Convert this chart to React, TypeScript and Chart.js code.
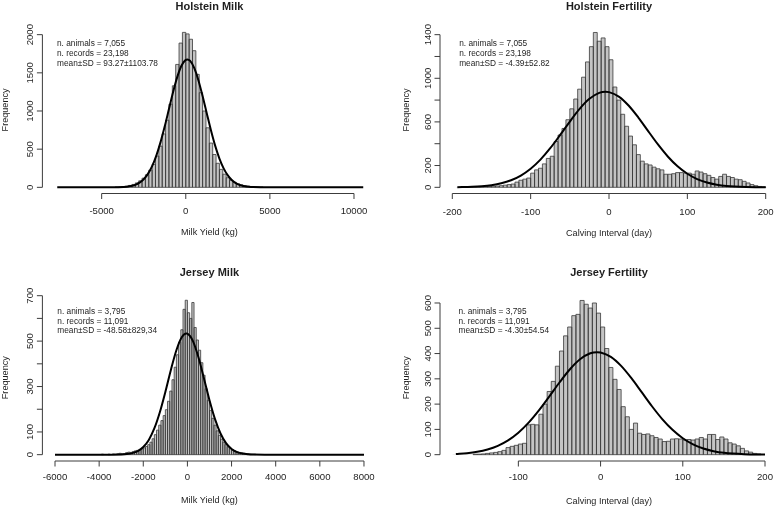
import React, { useEffect, useRef } from "react";
import { Chart, registerables } from "chart.js";

Chart.register(...registerables);

const FONT = "'Liberation Sans', Arial, Helvetica, sans-serif";
const TEXT_COLOR = "#1e1e1e";
const AXIS_COLOR = "#3c3c3c";
const BAR_FILL = "#c4c4c4";
const BAR_EDGE = "#3a3a3a";
const BAR_EDGE_WIDTH = 0.8;
const TICK_LEN = 5.5;
const TICK_FONT = 9.6;
const LAB_FONT = 9.1;
const TITLE_FONT = 11;
const NOTE_FONT = 8.3;

// ---------------- Holstein Milk (bins of 200 kg) ----------------
const HM_BIN_START = -5000;
const HM_BIN_WIDTH = 200;
const HM_COUNTS = [
  1, 1, 2, 3, 5, 7, 10, 15, 25, 38, 58, 85, 120, 165, 225, 300, 410, 540, 700, 880,
  1090, 1330, 1610, 1890, 2030, 2010, 1940, 1790, 1480, 1240, 1000, 780, 580, 430, 315, 235,
  172, 126, 92, 66, 47, 33, 23, 16, 11, 8, 6, 4, 3, 2, 2, 1, 2, 1, 1,
];
const HM_CURVE_X = [
  -7640, -5000, -4500, -4000, -3500, -3250, -3000, -2750, -2500, -2250, -2000, -1750, -1500,
  -1250, -1000, -750, -500, -250, 0, 93, 250, 500, 750, 1000, 1250, 1500, 1750, 2000, 2250,
  2500, 2750, 3000, 3250, 3500, 3750, 4000, 4500, 5000, 10550,
];
const HM_CURVE_Y = [
  0, 0, 0.3, 1.7, 8.4, 17, 33, 61, 106, 176, 277, 416, 592, 799, 1026, 1252, 1451, 1597,
  1670, 1676, 1659, 1566, 1404, 1195, 968, 744, 543, 377, 248, 156, 92, 52, 28, 14, 7, 3,
  0.5, 0, 0,
];
const HM_X_TICKS = [-5000, 0, 5000, 10000];
const HM_Y_TICKS = [0, 500, 1000, 1500, 2000];
const HM_Y_LABELS = [0, 500, 1000, 1500, 2000];
const HM_NOTES = ["n. animals = 7,055", "n. records = 23,198", "mean±SD = 93.27±1103.78"];

// ---------------- Holstein Fertility (bins of 5 days) ----------------
const HF_BIN_START = -200;
const HF_BIN_WIDTH = 5;
const HF_COUNTS = [
  1, 2, 2, 3, 3, 4, 5, 6, 7, 9, 10, 12, 15, 20, 25, 30, 48, 65, 75, 85, 130, 160, 175, 215,
  265, 285, 420, 480, 540, 620, 720, 810, 900, 1010, 1150, 1290, 1420, 1340, 1370, 1290,
  1170, 920, 800, 670, 560, 470, 390, 300, 240, 215, 205, 185, 170, 160, 120, 120, 125, 135,
  135, 130, 130, 120, 150, 140, 125, 110, 90, 75, 100, 120, 100, 90, 75, 70, 55, 40, 25, 15,
  8, 3,
];
const HF_CURVE_X = [
  -193.6, -175, -162.5, -150, -137.5, -125, -112.5, -100, -87.5, -75, -62.5, -50, -37.5, -25,
  -12.5, -4.39, 0, 12.5, 25, 37.5, 50, 62.5, 75, 87.5, 100, 112.5, 125, 137.5, 150, 175, 200,
];
const HF_CURVE_Y = [
  1.4, 4.7, 9.9, 19.6, 36.6, 64.6, 107.9, 170.2, 254, 358.5, 478.3, 603.4, 719.8, 811.8,
  865.8, 876, 873, 832.4, 750.4, 639.6, 515.5, 392.9, 283.1, 192.9, 124.3, 75.7, 43.6, 23.7,
  12.2, 2.7, 0.5,
];
const HF_X_TICKS = [-200, -100, 0, 100, 200];
const HF_Y_TICKS = [0, 200, 400, 600, 800, 1000, 1200, 1400];
const HF_Y_LABELS = [0, 200, 600, 1000, 1400];
const HF_NOTES = ["n. animals = 7,055", "n. records = 23,198", "mean±SD = -4.39±52.82"];

// ---------------- Jersey Milk (bins of 100 kg) ----------------
const JM_BIN_START = -4000;
const JM_BIN_WIDTH = 100;
const JM_COUNTS = [
  1, 2, 1, 1, 2, 1, 3, 2, 4, 6, 4, 5, 9, 11, 10, 14, 17, 19, 21, 26, 30, 36, 44, 55, 70, 88,
  108, 130, 150, 172, 198, 235, 280, 330, 385, 440, 495, 550, 640, 680, 625, 600, 670, 560,
  505, 460, 405, 350, 290, 240, 195, 160, 130, 105, 85, 68, 55, 44, 35, 28, 22, 17, 13, 10,
  8, 6, 5, 4, 3, 2, 2, 1,
];
const JM_CURVE_X = [
  -6000, -4000, -3500, -3000, -2750, -2500, -2250, -2000, -1750, -1500, -1250, -1000, -750,
  -500, -250, -48.58, 0, 250, 500, 750, 1000, 1250, 1500, 1750, 2000, 2250, 2500, 2750, 3000,
  3500, 8000,
];
const JM_CURVE_Y = [
  0, 0, 0.1, 0.95, 2.65, 6.75, 15.7, 33.5, 65, 115.3, 186.8, 276.3, 373.1, 460, 518, 533.5,
  532.6, 500, 428.7, 335.6, 239.9, 156.6, 93.3, 50.8, 25.2, 11.5, 4.7, 1.8, 0.6, 0.05, 0,
];
const JM_X_TICKS = [-6000, -4000, -2000, 0, 2000, 4000, 6000, 8000];
const JM_Y_TICKS = [0, 100, 200, 300, 400, 500, 600, 700];
const JM_Y_LABELS = [0, 100, 300, 500, 700];
const JM_NOTES = ["n. animals = 3,795", "n. records = 11,091", "mean±SD = -48.58±829,34"];

// ---------------- Jersey Fertility (bins of 5 days) ----------------
const JF_BIN_START = -180;
const JF_BIN_WIDTH = 5;
const JF_COUNTS = [
  1, 1, 0, 1, 1, 2, 2, 3, 5, 7, 9, 12, 17, 28, 33, 37, 42, 45, 118, 120, 118, 160, 200, 250,
  290, 350, 410, 470, 505, 550, 555, 610, 595, 580, 600, 560, 505, 420, 345, 298, 258, 190,
  150, 100, 125, 85, 80, 82, 75, 68, 62, 52, 53, 62, 63, 62, 58, 60, 58, 62, 68, 62, 80, 80,
  60, 70, 62, 47, 42, 35, 25, 15, 10, 5, 3, 1,
];
const JF_CURVE_X = [
  -176, -162.5, -150, -137.5, -125, -112.5, -100, -87.5, -75, -62.5, -50, -37.5, -25, -12.5,
  -4.3, 0, 12.5, 25, 37.5, 50, 62.5, 75, 87.5, 100, 112.5, 125, 137.5, 150, 175, 200,
];
const JF_CURVE_Y = [
  2.9, 6.0, 11.4, 20.6, 35.0, 56.7, 87.0, 126.7, 175.1, 229.5, 285.5, 337.0, 377.4, 401.1,
  405.6, 404.3, 386.8, 351.1, 302.4, 247.1, 191.6, 140.9, 98.4, 65.1, 40.9, 24.4, 13.8, 7.4,
  1.8, 0.4,
];
const JF_X_TICKS = [-100, 0, 100, 200];
const JF_Y_TICKS = [0, 100, 200, 300, 400, 500, 600];
const JF_Y_LABELS = [0, 100, 200, 300, 400, 500, 600];
const JF_NOTES = ["n. animals = 3,795", "n. records = 11,091", "mean±SD = -4.30±54.54"];

interface Panel {
  title: string;
  xTitle: string;
  notes: string[];
  binStart: number;
  binWidth: number;
  counts: number[];
  curveX: number[];
  curveY: number[];
  xTicks: number[];
  yTicks: number[];
  yLabels: number[];
  xRange: [number, number];
  yRange: [number, number];
  canvas: { left: number; top: number; w: number; h: number };
  area: { l: number; t: number; r: number; b: number };
  text: { titleY: number; xTickY: number; xTitleY: number; yTitleX: number; noteX: number; noteY: number[] };
}

const PANELS: Panel[] = [
  {
    title: "Holstein Milk",
    xTitle: "Milk Yield (kg)",
    notes: HM_NOTES,
    binStart: HM_BIN_START,
    binWidth: HM_BIN_WIDTH,
    counts: HM_COUNTS,
    curveX: HM_CURVE_X,
    curveY: HM_CURVE_Y,
    xTicks: HM_X_TICKS,
    yTicks: HM_Y_TICKS,
    yLabels: HM_Y_LABELS,
    xRange: [-8523, 11332],
    yRange: [-80.8, 2109.6],
    canvas: { left: 0, top: 0, w: 389, h: 253 },
    area: { l: 42.4, t: 26.3, r: 376.4, b: 193.5 },
    text: { titleY: 9.9, xTickY: 214.4, xTitleY: 235.3, yTitleX: 8.0, noteX: 57, noteY: [46.4, 56.2, 66.0] },
  },
  {
    title: "Holstein Fertility",
    xTitle: "Calving Interval (day)",
    notes: HF_NOTES,
    binStart: HF_BIN_START,
    binWidth: HF_BIN_WIDTH,
    counts: HF_COUNTS,
    curveX: HF_CURVE_X,
    curveY: HF_CURVE_Y,
    xTicks: HF_X_TICKS,
    yTicks: HF_Y_TICKS,
    yLabels: HF_Y_LABELS,
    xRange: [-215.7, 215.7],
    yRange: [-56.6, 1476.7],
    canvas: { left: 389, top: 0, w: 389, h: 253 },
    area: { l: 440, t: 26.3, r: 778, b: 193.5 },
    text: { titleY: 9.9, xTickY: 214.6, xTitleY: 235.5, yTitleX: 408.6, noteX: 459.2, noteY: [46.4, 56.2, 66.0] },
  },
  {
    title: "Jersey Milk",
    xTitle: "Milk Yield (kg)",
    notes: JM_NOTES,
    binStart: JM_BIN_START,
    binWidth: JM_BIN_WIDTH,
    counts: JM_COUNTS,
    curveX: JM_CURVE_X,
    curveY: JM_CURVE_Y,
    xTicks: JM_X_TICKS,
    yTicks: JM_Y_TICKS,
    yLabels: JM_Y_LABELS,
    xRange: [-6571, 8563],
    yRange: [-27.9, 705.7],
    canvas: { left: 0, top: 253, w: 389, h: 253 },
    area: { l: 42.4, t: 294.4, r: 376.4, b: 461.0 },
    text: { titleY: 276.2, xTickY: 479.7, xTitleY: 503.2, yTitleX: 8.0, noteX: 57.3, noteY: [313.8, 323.6, 333.4] },
  },
  {
    title: "Jersey Fertility",
    xTitle: "Calving Interval (day)",
    notes: JF_NOTES,
    binStart: JF_BIN_START,
    binWidth: JF_BIN_WIDTH,
    counts: JF_COUNTS,
    curveX: JF_CURVE_X,
    curveY: JF_CURVE_Y,
    xTicks: JF_X_TICKS,
    yTicks: JF_Y_TICKS,
    yLabels: JF_Y_LABELS,
    xRange: [-195.3, 215.8],
    yRange: [-25.0, 634.0],
    canvas: { left: 389, top: 253, w: 389, h: 253 },
    area: { l: 440, t: 294.4, r: 778, b: 461.0 },
    text: { titleY: 276.3, xTickY: 479.9, xTitleY: 503.6, yTitleX: 408.6, noteX: 458.5, noteY: [313.8, 323.6, 333.4] },
  },
];

// Outline each histogram bar (R-style stroked rectangles) using the geometry
// of the bar elements laid out by Chart.js, right after the bars are drawn.
const barOutline = {
  id: "barOutline",
  afterDatasetDraw(chart: any, args: any) {
    const meta = args.meta;
    if (meta.type !== "bar") return;
    const ctx = chart.ctx as CanvasRenderingContext2D;
    ctx.save();
    ctx.strokeStyle = BAR_EDGE;
    ctx.lineWidth = BAR_EDGE_WIDTH;
    ctx.beginPath();
    meta.data.forEach((el: any) => {
      const { x, y, base, width } = el.getProps(["x", "y", "base", "width"], true);
      if (Math.abs(base - y) < 0.3) return;
      ctx.rect(x - width / 2, y, width, base - y);
    });
    ctx.stroke();
    ctx.restore();
  },
};

function makeDecor(p: Panel) {
  return {
    id: "rDecor",
    afterDraw(chart: any) {
      const ctx = chart.ctx as CanvasRenderingContext2D;
      const xs = chart.scales.x;
      const ys = chart.scales.y;
      const a = chart.chartArea;
      const ox = p.canvas.left;
      const oy = p.canvas.top;
      ctx.save();
      ctx.strokeStyle = AXIS_COLOR;
      ctx.lineWidth = 1;
      ctx.beginPath();
      const xFirst = xs.getPixelForValue(p.xTicks[0]);
      const xLast = xs.getPixelForValue(p.xTicks[p.xTicks.length - 1]);
      ctx.moveTo(xFirst, a.bottom);
      ctx.lineTo(xLast, a.bottom);
      p.xTicks.forEach((t) => {
        const px = xs.getPixelForValue(t);
        ctx.moveTo(px, a.bottom);
        ctx.lineTo(px, a.bottom + TICK_LEN);
      });
      const yFirst = ys.getPixelForValue(p.yTicks[0]);
      const yLast = ys.getPixelForValue(p.yTicks[p.yTicks.length - 1]);
      ctx.moveTo(a.left, yFirst);
      ctx.lineTo(a.left, yLast);
      p.yTicks.forEach((t) => {
        const py = ys.getPixelForValue(t);
        ctx.moveTo(a.left, py);
        ctx.lineTo(a.left - TICK_LEN, py);
      });
      ctx.stroke();

      ctx.fillStyle = TEXT_COLOR;
      ctx.textAlign = "center";
      ctx.textBaseline = "alphabetic";
      ctx.font = `${TICK_FONT}px ${FONT}`;
      p.xTicks.forEach((t) => ctx.fillText(String(t), xs.getPixelForValue(t), p.text.xTickY - oy));
      p.yLabels.forEach((t) => {
        ctx.save();
        ctx.translate(a.left - 9.5, ys.getPixelForValue(t));
        ctx.rotate(-Math.PI / 2);
        ctx.fillText(String(t), 0, 0);
        ctx.restore();
      });

      ctx.font = `${LAB_FONT}px ${FONT}`;
      ctx.fillText(p.xTitle, (a.left + a.right) / 2, p.text.xTitleY - oy);
      ctx.save();
      ctx.translate(p.text.yTitleX - ox, (a.top + a.bottom) / 2);
      ctx.rotate(-Math.PI / 2);
      ctx.fillText("Frequency", 0, 0);
      ctx.restore();

      ctx.font = `bold ${TITLE_FONT}px ${FONT}`;
      ctx.fillText(p.title, (a.left + a.right) / 2, p.text.titleY - oy);

      ctx.font = `${NOTE_FONT}px ${FONT}`;
      ctx.textAlign = "left";
      p.notes.forEach((s, i) => ctx.fillText(s, p.text.noteX - ox, p.text.noteY[i] - oy));
      ctx.restore();
    },
  };
}

function buildConfig(p: Panel): any {
  const bars = p.counts.map((c, i) => ({ x: p.binStart + (i + 0.5) * p.binWidth, y: c }));
  const curve = p.curveX.map((x, i) => ({ x, y: p.curveY[i] }));
  return {
    type: "bar",
    data: {
      datasets: [
        {
          type: "line",
          data: curve,
          borderColor: "#000000",
          borderWidth: 2,
          pointRadius: 0,
          cubicInterpolationMode: "monotone",
          fill: false,
          order: 0,
        },
        {
          type: "bar",
          data: bars,
          backgroundColor: BAR_FILL,
          borderWidth: 0,
          inflateAmount: 0,
          barPercentage: 1,
          categoryPercentage: 1,
          order: 1,
        },
      ],
    },
    options: {
      animation: false,
      responsive: false,
      events: [],
      layout: {
        autoPadding: false,
        padding: {
          left: p.area.l - p.canvas.left,
          top: p.area.t - p.canvas.top,
          right: p.canvas.left + p.canvas.w - p.area.r,
          bottom: p.canvas.top + p.canvas.h - p.area.b,
        },
      },
      plugins: {
        legend: { display: false },
        tooltip: { enabled: false },
        title: { display: false },
      },
      scales: {
        x: { type: "linear", min: p.xRange[0], max: p.xRange[1], display: false, offset: false },
        y: { type: "linear", min: p.yRange[0], max: p.yRange[1], display: false },
      },
    },
    plugins: [barOutline, makeDecor(p)],
  };
}

export default function App() {
  const refs = useRef<(HTMLCanvasElement | null)[]>([]);

  useEffect(() => {
    const charts = PANELS.map((p, i) => new Chart(refs.current[i] as HTMLCanvasElement, buildConfig(p)));
    return () => charts.forEach((c) => c.destroy());
  }, []);

  return (
    <div style={{ position: "absolute", left: 0, top: 0, width: 778, height: 506, background: "#ffffff", overflow: "hidden" }}>
      {PANELS.map((p, i) => (
        <canvas
          key={i}
          ref={(el) => {
            refs.current[i] = el;
          }}
          width={p.canvas.w}
          height={p.canvas.h}
          style={{ position: "absolute", left: p.canvas.left, top: p.canvas.top, width: p.canvas.w, height: p.canvas.h }}
        />
      ))}
    </div>
  );
}
